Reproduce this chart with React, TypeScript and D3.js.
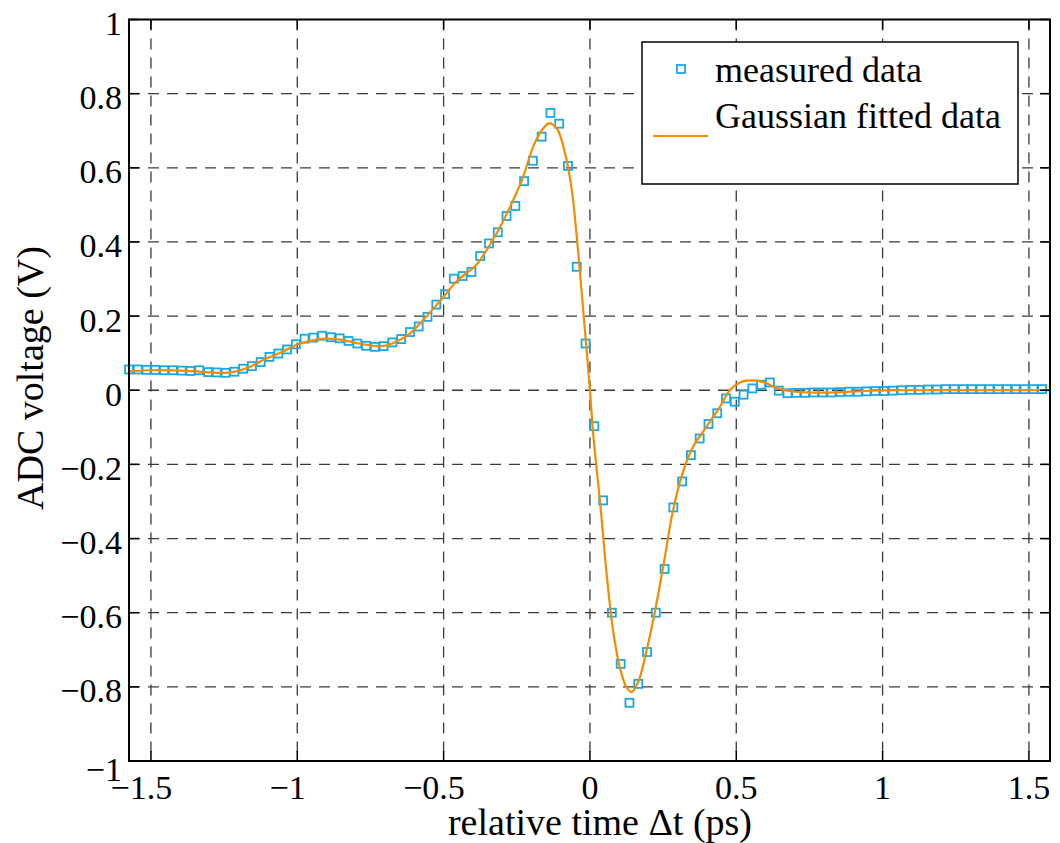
import React from "react";
import * as d3 from "d3";

// measured samples (ps, V)
const measuredTime = [
  -1.575, -1.545, -1.515, -1.485, -1.455, -1.425, -1.395, -1.365, -1.335, -1.305,
  -1.275, -1.245, -1.215, -1.185, -1.155, -1.125, -1.095, -1.065, -1.035, -1.005,
  -0.975, -0.945, -0.915, -0.885, -0.855, -0.825, -0.795, -0.765, -0.735, -0.705,
  -0.675, -0.645, -0.615, -0.585, -0.555, -0.525, -0.495, -0.465, -0.435, -0.405,
  -0.375, -0.345, -0.315, -0.285, -0.255, -0.225, -0.195, -0.165, -0.135, -0.105,
  -0.075, -0.045, -0.015, 0.015, 0.045, 0.075, 0.105, 0.135, 0.165, 0.195,
  0.225, 0.255, 0.285, 0.315, 0.345, 0.375, 0.405, 0.435, 0.465, 0.495,
  0.525, 0.555, 0.585, 0.615, 0.645, 0.675, 0.705, 0.735, 0.765, 0.795,
  0.825, 0.855, 0.885, 0.915, 0.945, 0.975, 1.005, 1.035, 1.065, 1.095,
  1.125, 1.155, 1.185, 1.215, 1.245, 1.275, 1.305, 1.335, 1.365, 1.395,
  1.425, 1.455, 1.485, 1.515, 1.545,
];
const measuredVoltage = [
  0.056, 0.056, 0.055, 0.055, 0.054, 0.054, 0.053, 0.052, 0.054, 0.049,
  0.048, 0.047, 0.05, 0.058, 0.065, 0.076, 0.09, 0.099, 0.11, 0.124,
  0.139, 0.142, 0.147, 0.143, 0.14, 0.133, 0.126, 0.12, 0.117, 0.119,
  0.129, 0.138, 0.157, 0.172, 0.198, 0.231, 0.259, 0.301, 0.308, 0.319,
  0.362, 0.396, 0.426, 0.47, 0.497, 0.564, 0.619, 0.684, 0.748, 0.719,
  0.605, 0.333, 0.126, -0.097, -0.297, -0.6, -0.738, -0.843, -0.792, -0.706,
  -0.6, -0.482, -0.316, -0.246, -0.175, -0.13, -0.091, -0.062, -0.022, -0.031,
  -0.012, 0.005, 0.015, 0.021, -0.001, -0.008, -0.007, -0.007, -0.006, -0.006,
  -0.006, -0.005, -0.004, -0.004, -0.003, -0.002, -0.002, -0.001, 0.0, 0.001,
  0.001, 0.002, 0.002, 0.003, 0.003, 0.003, 0.003, 0.003, 0.003, 0.003,
  0.003, 0.003, 0.003, 0.003, 0.003,
];

// fitted curve
const fitTime = [
  -1.575, -1.49, -1.375, -1.27, -1.22, -1.165, -1.11, -1.05, -0.998, -0.94,
  -0.9, -0.86, -0.8, -0.74, -0.7, -0.665, -0.62, -0.57, -0.51, -0.45,
  -0.39, -0.319, -0.262, -0.228, -0.194, -0.16, -0.14, -0.113, -0.085, -0.062,
  -0.045, -0.03, -0.018, 0.0, 0.012, 0.034, 0.057, 0.079, 0.102, 0.125,
  0.142, 0.165, 0.188, 0.216, 0.25, 0.284, 0.318, 0.352, 0.398, 0.444,
  0.478, 0.512, 0.535, 0.57, 0.6, 0.63, 0.68, 0.75, 0.84, 0.94,
  1.05, 1.3, 1.572,
];
const fitVoltage = [
  0.051, 0.054, 0.052, 0.047, 0.049, 0.062, 0.084, 0.104, 0.124, 0.136,
  0.139, 0.137, 0.128, 0.12, 0.12, 0.13, 0.15, 0.189, 0.243, 0.298,
  0.337, 0.423, 0.513, 0.576, 0.657, 0.706, 0.72, 0.706, 0.639, 0.54,
  0.414, 0.28, 0.17, 0.0, -0.126, -0.297, -0.495, -0.648, -0.747, -0.801,
  -0.814, -0.787, -0.72, -0.621, -0.477, -0.324, -0.22, -0.153, -0.099, -0.045,
  0.0, 0.021, 0.026, 0.026, 0.02, 0.009, -0.002, -0.006, -0.006, -0.002,
  0.0, 0.0, 0.0,
];

const xTicks = [-1.5, -1, -0.5, 0, 0.5, 1, 1.5];
const yTicks = [-1, -0.8, -0.6, -0.4, -0.2, 0, 0.2, 0.4, 0.6, 0.8, 1];

const seriesNames = ["measured data", "Gaussian fitted data"];

const MARKER = "#1aa8e4";
const FIT = "#f28c00";
const FONT = '"Liberation Serif", "DejaVu Serif", serif';

export default function App() {
  const width = 1060;
  const height = 843;
  const left = 129, right = 1050, top = 19.5, bottom = 761;

  const x = d3.scaleLinear().domain([-1.575, 1.572]).range([left, right]);
  const y = d3.scaleLinear().domain([-1, 1]).range([bottom, top]);

  const fitData = fitTime.map((t, i) => [t, fitVoltage[i]] as [number, number]);
  const line = d3
    .line<[number, number]>()
    .x((d) => x(d[0]))
    .y((d) => y(d[1]))
    .curve(d3.curveCatmullRom.alpha(0.5));

  const fmt = (v: number) => String(Math.abs(Math.round(v * 10) / 10));
  const tickFont = 34;
  const tickLen = 10;

  return (
    <svg
      width={width}
      height={height}
      style={{ position: "absolute", left: 0, top: 0, background: "#fff", fontFamily: FONT }}
    >
      <defs>
        <clipPath id="plotClip">
          <rect x={left} y={top} width={right - left} height={bottom - top} />
        </clipPath>
      </defs>
      <rect x={0} y={0} width={width} height={height} fill="#fff" />

      {/* grid */}
      <g stroke="#3a3a3a" strokeWidth={1.3} strokeDasharray="11,8">
        {xTicks.map((t) => (
          <line key={"gx" + t} x1={x(t)} x2={x(t)} y1={top} y2={bottom} />
        ))}
        {yTicks
          .filter((v) => v > -1 && v < 1)
          .map((v) => (
            <line key={"gy" + v} x1={left} x2={right} y1={y(v)} y2={y(v)} />
          ))}
      </g>

      {/* measured markers */}
      <g fill="none" stroke={MARKER} strokeWidth={1.8}>
        {measuredTime.map((t, i) => (
          <rect
            key={"m" + i}
            x={x(t) - 4}
            y={y(measuredVoltage[i]) - 4}
            width={8}
            height={8}
          />
        ))}
      </g>

      {/* fitted curve */}
      <path
        d={line(fitData) || ""}
        fill="none"
        stroke={FIT}
        strokeWidth={2.2}
        clipPath="url(#plotClip)"
      />

      {/* ticks */}
      <g stroke="#000" strokeWidth={1.5}>
        {xTicks.map((t) => (
          <g key={"tx" + t}>
            <line x1={x(t)} x2={x(t)} y1={bottom} y2={bottom - tickLen} />
            <line x1={x(t)} x2={x(t)} y1={top} y2={top + tickLen} />
          </g>
        ))}
        {yTicks.map((v) => (
          <g key={"ty" + v}>
            <line x1={left} x2={left + tickLen} y1={y(v)} y2={y(v)} />
            <line x1={right} x2={right - tickLen} y1={y(v)} y2={y(v)} />
          </g>
        ))}
      </g>

      {/* axes box */}
      <rect
        x={left}
        y={top}
        width={right - left}
        height={bottom - top}
        fill="none"
        stroke="#000"
        strokeWidth={2}
      />

      {/* x tick labels: number centred on tick, minus hanging left */}
      {xTicks.map((t) => (
        <text key={"lx" + t} x={x(t)} y={799} fontSize={tickFont} textAnchor="middle">
          {fmt(t)}
        </text>
      ))}
      {xTicks
        .filter((t) => t < 0)
        .map((t) => (
          <text
            key={"mx" + t}
            x={x(t) - (fmt(t).length === 1 ? 0.25 : 0.625) * tickFont}
            y={799}
            fontSize={tickFont}
            textAnchor="end"
          >
            −
          </text>
        ))}

      {/* y tick labels */}
      {yTicks.map((v) => (
        <text
          key={"ly" + v}
          x={122}
          y={y(v) + (v === -1 ? 8 : 4)}
          fontSize={tickFont}
          textAnchor="end"
          dominantBaseline="central"
        >
          {(v < 0 ? "−" : "") + fmt(v)}
        </text>
      ))}

      {/* axis labels */}
      <text x={600} y={835} fontSize={38} textAnchor="middle">
        relative time Δt (ps)
      </text>
      <text transform={`translate(43,378) rotate(-90)`} fontSize={38} textAnchor="middle">
        ADC voltage (V)
      </text>

      {/* legend */}
      <g>
        <rect x={642} y={42} width={376} height={142} fill="#fff" stroke="#000" strokeWidth={1.5} />
        <rect x={677} y={65} width={8} height={8} fill="none" stroke={MARKER} strokeWidth={1.8} />
        <text x={715} y={82} fontSize={36}>
          {seriesNames[0]}
        </text>
        <line x1={653} x2={708} y1={136} y2={136} stroke={FIT} strokeWidth={2.2} />
        <text x={715} y={128} fontSize={36}>
          {seriesNames[1]}
        </text>
      </g>
    </svg>
  );
}
